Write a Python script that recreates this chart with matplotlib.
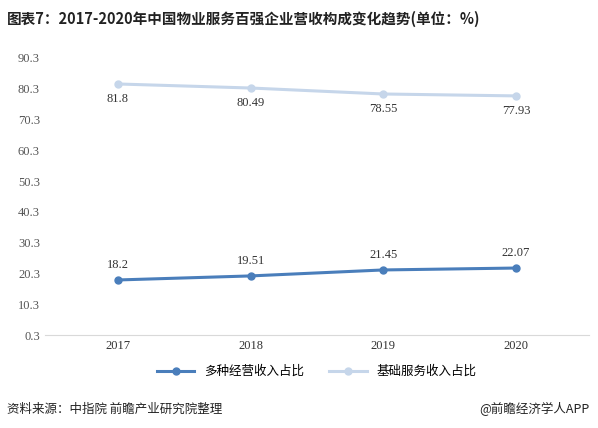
import matplotlib.pyplot as plt

plt.rcParams['font.family'] = ['Noto Sans CJK SC', 'DejaVu Sans']

years = ['2017', '2018', '2019', '2020']
diverse = [18.2, 19.51, 21.45, 22.07]
basic = [81.8, 80.49, 78.55, 77.93]
yticks = [0.3, 10.3, 20.3, 30.3, 40.3, 50.3, 60.3, 70.3, 80.3, 90.3]

fig = plt.figure(figsize=(5.98, 4.28), dpi=100)
ax = fig.add_axes([0.075, 0.217, 0.91, 0.648])

x = range(len(years))
ax.plot(x, diverse, color='#4a7ebb', lw=2.2, marker='o', ms=5, label='多种经营收入占比')
ax.plot(x, basic, color='#c6d6ea', lw=2.2, marker='o', ms=5, label='基础服务收入占比')
for i in x:
    ax.text(i, diverse[i] + 3, f'{diverse[i]:g}', ha='center', va='bottom', fontsize=9,
            family='Liberation Serif', color='#333333')
    ax.text(i, basic[i] - 3, f'{basic[i]:g}', ha='center', va='top', fontsize=9,
            family='Liberation Serif', color='#333333')

ax.set_xlim(-0.55, 3.55)
ax.set_ylim(0.3, 90.3)
ax.set_yticks(yticks)
ax.set_yticklabels([f'{v:g}' for v in yticks], family='Liberation Serif', fontsize=9, color='#555555')
ax.set_xticks(list(x))
ax.set_xticklabels(years, family='Liberation Serif', fontsize=9, color='#333333')
ax.tick_params(length=0)
for s in ['top', 'right', 'left']:
    ax.spines[s].set_visible(False)
ax.spines['bottom'].set_color('#d9d9d9')

fig.legend(loc='lower center', bbox_to_anchor=(0.53, 0.09), ncol=2, frameon=False,
           fontsize=9, handlelength=3, columnspacing=2)

fig.text(0.012, 0.945, '图表7：2017-2020年中国物业服务百强企业营收构成变化趋势(单位：%)',
         fontsize=10.5, fontweight='bold', color='#222222')
fig.text(0.012, 0.035, '资料来源：中指院 前瞻产业研究院整理', fontsize=9, color='#222222')
fig.text(0.985, 0.035, '@前瞻经济学人APP', fontsize=9, color='#222222', ha='right')

fig.savefig('out.png', dpi=100)
